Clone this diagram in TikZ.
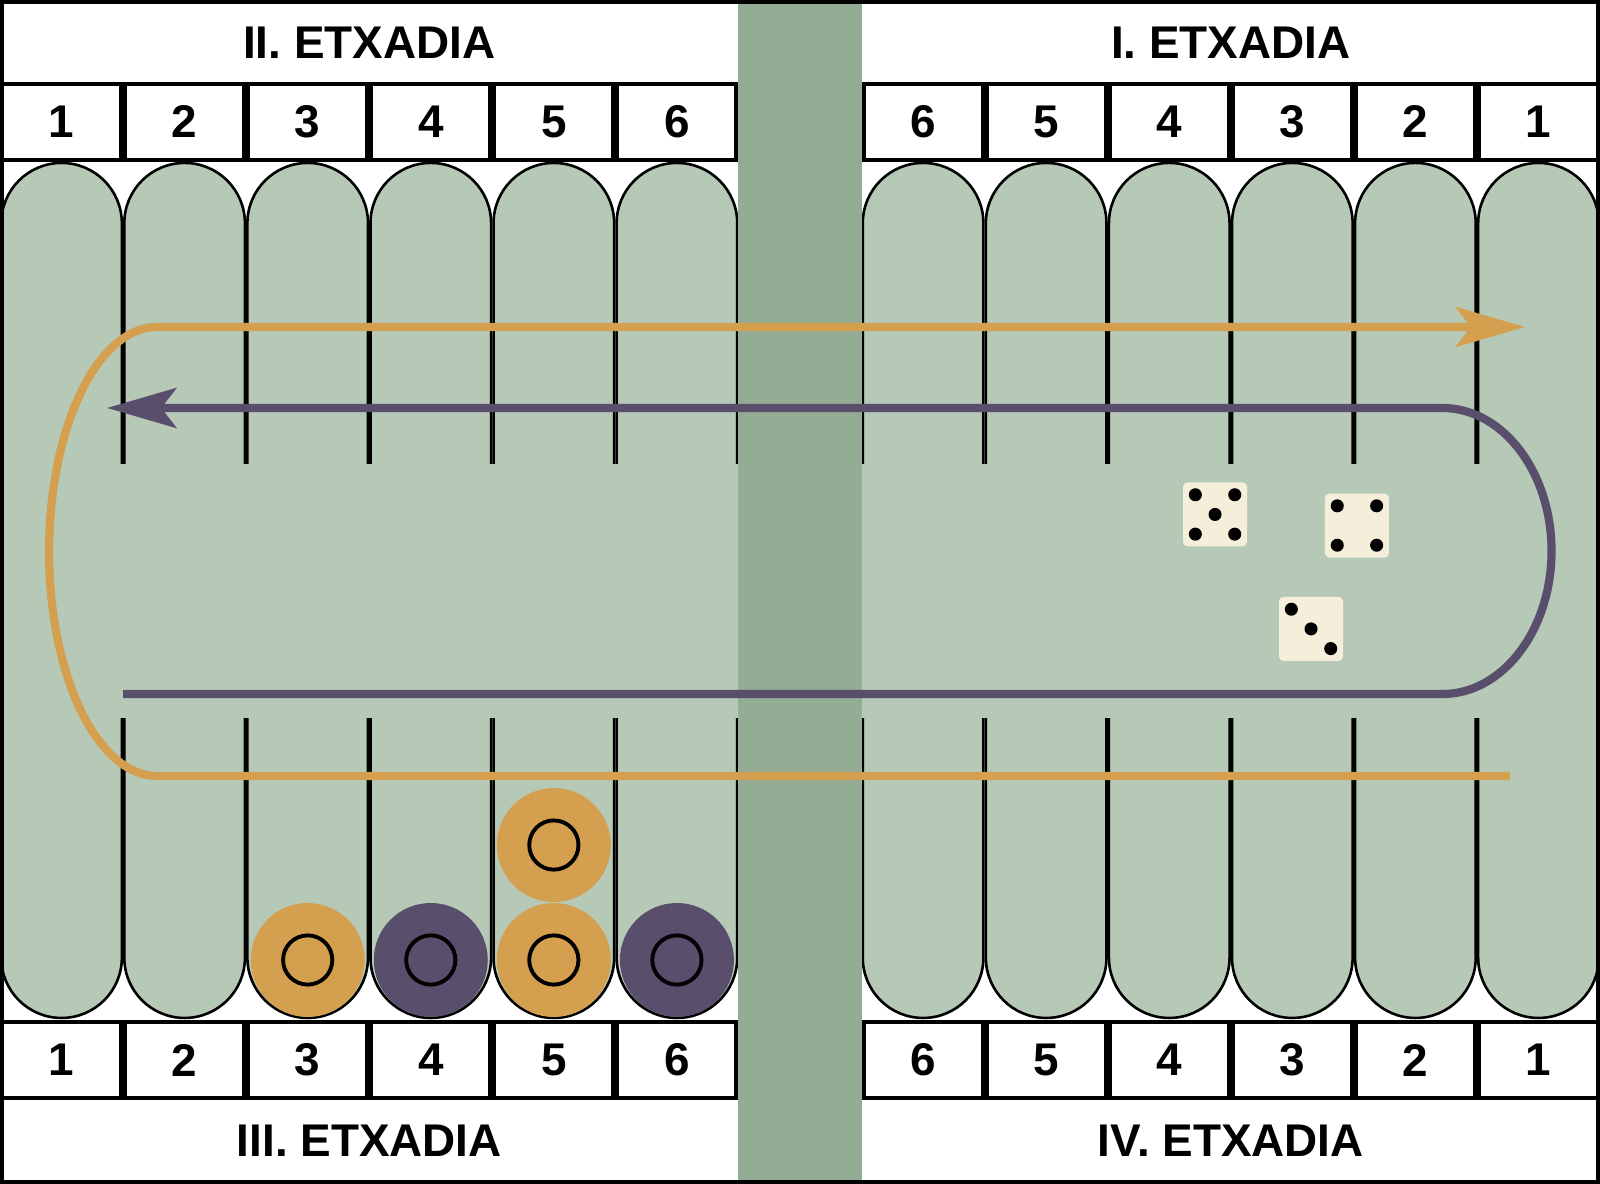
\documentclass[tikz,border=0pt]{standalone}
\usepackage{fontspec}
\setmainfont{Liberation Sans}
\usepackage{tikz}
\usetikzlibrary{arrows.meta}
\definecolor{felt}{HTML}{B6C9B6}
\definecolor{barfelt}{HTML}{93AC93}
\definecolor{gold}{HTML}{D4A050}
\definecolor{plum}{HTML}{594E6B}
\definecolor{ivory}{HTML}{F4EEDB}
\tikzstyle{board}=[font=\bfseries\fontsize{10.6}{12}\selectfont]
\tikzstyle{quarter}=[inner sep=0pt]
\tikzstyle{num}=[rectangle, draw, line width=0.92pt, fill=white, minimum width=0.9675cm, minimum height=0.6175cm, inner sep=0pt]
\tikzstyle{pillar}=[draw, fill=felt, line width=0.6pt, rounded corners=0.49cm]
\tikzstyle{band}=[fill=felt]
\tikzstyle{midbar}=[fill=barfelt]
\tikzstyle{chk}=[circle, minimum size=0.926cm, inner sep=0pt]
\tikzstyle{ring}=[draw, line width=0.9pt]
\tikzstyle{die}=[rectangle, fill=ivory, rounded corners=1pt, minimum size=0.52cm, inner sep=0pt]
\tikzstyle{pip}=[fill=black]
\tikzstyle{route}=[line width=1.9pt]
\tikzstyle{frame}=[draw, line width=0.92pt]

\begin{document}
\begin{tikzpicture}[board]
	\useasboundingbox (0,0) rectangle (13,9.62);
	\fill[white] (0,0) rectangle (13,9.62);

	%The points
	\foreach \x in {0,...,5,7,8,...,12}
		\draw[pillar] (\x+0.01,1.349) rectangle (\x+0.99,8.296);

	%The middle of the board and the bar
	\fill[band] (0,3.786) rectangle (13,5.85);
	\fill[midbar] (6,0) rectangle (7,9.62);

	%The quarters
	\draw (3,9.27) node[quarter] (q2) {II. ETXADIA};
	\draw (10,9.27) node[quarter] (q1) {I. ETXADIA};
	\draw (3,0.349) node[quarter] (q3) {III. ETXADIA};
	\draw (10,0.349) node[quarter] (q4) {IV. ETXADIA};

	%The point numbers
	\foreach \i in {1,...,6} {
		\draw (\i-0.5,8.629) node[num] (tl\i) {\i};
		\draw (13.5-\i,8.629) node[num] (tr\i) {\i};
		\draw (\i-0.5,1.0075) node[num] (bl\i) {\i};
		\draw (13.5-\i,1.0075) node[num] (br\i) {\i};
	}

	%The checkers
	\draw (2.5,1.82) node[chk, fill=gold] (c3) {};
	\draw (3.5,1.82) node[chk, fill=plum] (c4) {};
	\draw (4.5,1.82) node[chk, fill=gold] (c5) {};
	\draw (4.5,2.754) node[chk, fill=gold] (c5b) {};
	\draw (5.5,1.82) node[chk, fill=plum] (c6) {};
	\foreach \c in {c3,c4,c5,c5b,c6}
		\draw[ring] (\c.center) circle (0.2cm);

	%The dice
	\draw (9.872,5.44) node[die] (die5) {};
	\draw (11.025,5.35) node[die] (die4) {};
	\draw (10.652,4.51) node[die] (die3) {};
	\foreach \dx/\dy in {-0.16/0.16, 0.16/0.16, 0/0, -0.16/-0.16, 0.16/-0.16}
		\fill[pip] ([shift={(\dx,\dy)}]die5.center) circle (0.053);
	\foreach \dx/\dy in {-0.16/0.16, 0.16/0.16, -0.16/-0.16, 0.16/-0.16}
		\fill[pip] ([shift={(\dx,\dy)}]die4.center) circle (0.053);
	\foreach \dx/\dy in {-0.16/0.16, 0/0, 0.16/-0.16}
		\fill[pip] ([shift={(\dx,\dy)}]die3.center) circle (0.053);

	%The routes
	\coordinate (gstart) at (12.27,3.315);
	\coordinate (gend) at (12.39,6.963);
	\coordinate (pstart) at (1.0,3.981);
	\coordinate (pend) at (0.87,6.305);
	\draw[route, draw=gold, -{Stealth[length=16pt, width=9.2pt, inset=3.5pt, fill=gold]}] (gstart) -- (1.276,3.315) arc[start angle=270, end angle=90, x radius=0.877, y radius=1.824] -- (gend);
	\draw[route, draw=plum, -{Stealth[length=16pt, width=9.2pt, inset=3.5pt, fill=plum]}] (pstart) -- (11.72,3.981) arc[start angle=-90, end angle=90, x radius=0.886, y radius=1.162] -- (pend);

	%The frame
	\draw[frame] (0.016,0.016) rectangle (12.984,9.604);
\end{tikzpicture}
\end{document}
